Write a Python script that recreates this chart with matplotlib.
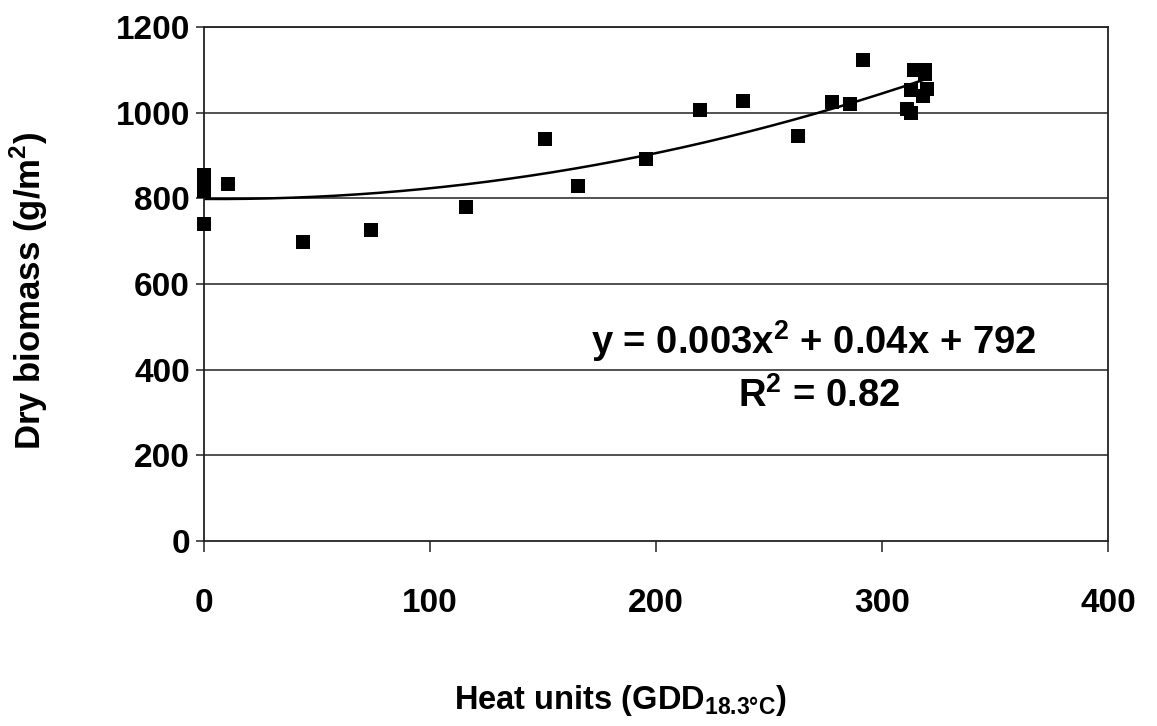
import numpy as np
import matplotlib
matplotlib.use("Agg")
import matplotlib.pyplot as plt

plt.rcParams['font.family'] = ['Liberation Sans', 'DejaVu Sans']
plt.rcParams['font.weight'] = 'bold'
plt.rcParams['mathtext.fontset'] = 'custom'
plt.rcParams['mathtext.rm'] = 'Liberation Sans'
plt.rcParams['mathtext.bf'] = 'Liberation Sans:bold'

# heat units (GDD) and dry biomass (g/m2)
gdd = [0, 0, 0, 0, 0, 10.6, 44, 74, 116, 151, 165.5, 195.6, 219.5, 238.5,
       263, 278, 286, 291.6, 311, 313, 314, 319, 319, 313, 320, 318]
biomass = [855, 843, 830, 818, 740, 834, 698, 726, 780, 939, 829, 892, 1006, 1027,
           945, 1025, 1020, 1123, 1008, 1000, 1100, 1100, 1090, 1052, 1055, 1040]

x_ticks = [0, 100, 200, 300, 400]
y_ticks = [0, 200, 400, 600, 800, 1000, 1200]
equation = "y = 0.003x$^{\\mathrm{2}}$ + 0.04x + 792"
r2_text = "R$^{\\mathrm{2}}$ = 0.82"

fig = plt.figure(figsize=(11.57, 7.26), dpi=100, facecolor='white')
ax = fig.add_axes([0.1763, 0.2548, 0.7814, 0.708])

# grid lines first so points sit above them
for yv in y_ticks[1:]:
    ax.axhline(yv, color='#222222', lw=1.1, zorder=1)

# quadratic trend line fitted to the points
coef = np.polyfit(gdd, biomass, 2)
xs = np.linspace(0, max(gdd), 200)
ax.plot(xs, np.polyval(coef, xs), color='black', lw=1.8, zorder=2)

ax.scatter(gdd, biomass, marker='s', s=100, color='black', zorder=3,
           linewidths=0, clip_on=False)

ax.set_xlim(0, 400)
ax.set_ylim(0, 1200)
ax.set_xticks(x_ticks)
ax.set_yticks(y_ticks)
ax.tick_params(axis='both', labelsize=24, width=1.1, length=8, direction='out', color='#222222')
ax.tick_params(axis='x', pad=26)
ax.tick_params(axis='y', length=6, pad=4)
for lab in ax.get_xticklabels() + ax.get_yticklabels():
    lab.set_fontweight('bold')

for side in ['left', 'bottom', 'right', 'top']:
    ax.spines[side].set_color('#222222')
    ax.spines[side].set_linewidth(1.3)

fig.text(0.025, 0.60, "Dry biomass (g/m$^{\\mathrm{2}}$)", fontsize=25, fontweight='bold',
         rotation=90, ha='center', va='center')
fig.text(0.536, 0.035, "Heat units (GDD$_{\\mathrm{18.3\u00b0C}}$)", fontsize=23.5,
         fontweight='bold', ha='center', va='center')

ax.text(0.674, 0.388, equation, transform=ax.transAxes, fontsize=27.5,
        fontweight='bold', ha='center', va='center')
ax.text(0.68, 0.282, r2_text, transform=ax.transAxes, fontsize=27.5,
        fontweight='bold', ha='center', va='center')

plt.savefig('out.png', dpi=100, facecolor='white')
